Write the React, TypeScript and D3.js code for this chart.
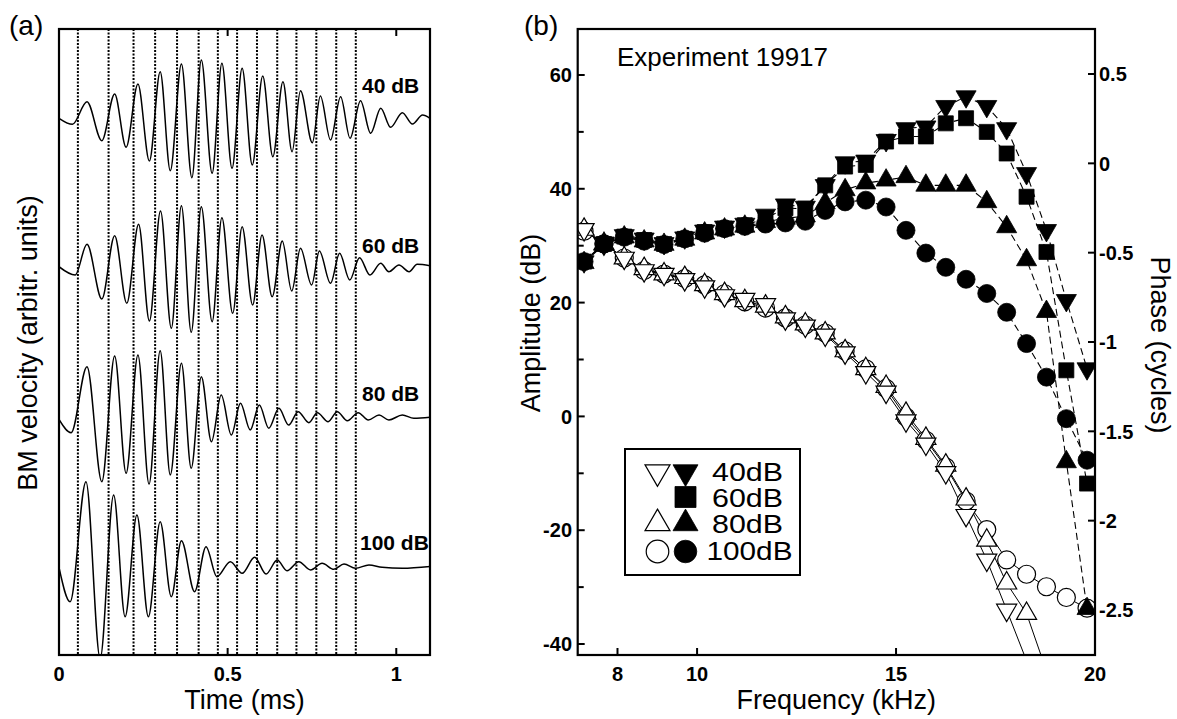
import React, { useEffect, useRef } from "react";
import * as d3 from "d3";

// ---------------- Panel (a): BM velocity waveforms ----------------
const timeTicks = [0, 0.5, 1];
const timeTickLabels = ["0", "0.5", "1"];
const dottedTimes = [0.056, 0.147, 0.221, 0.285, 0.35, 0.414, 0.471, 0.528, 0.587, 0.647, 0.704, 0.763, 0.822, 0.88];

const traceLabels = ["40 dB", "60 dB", "80 dB", "100 dB"];
const traceOffsets = [536.7, 388.3, 237.7, 88.5];

const trace40T = [0, 0.04, 0.083, 0.127, 0.165, 0.199, 0.234, 0.268, 0.3, 0.33, 0.363, 0.394, 0.422, 0.454, 0.483, 0.513, 0.543, 0.573, 0.604, 0.634, 0.664, 0.691, 0.716, 0.751, 0.775, 0.805, 0.835, 0.863, 0.894, 0.924, 0.954, 0.983, 1.018, 1.048, 1.078, 1.1];
const trace40V = [0, -6, 16.6, -22.4, 24.3, -29, 34.3, -42.7, 46.6, -52.4, 54.3, -59.4, 58.3, -55, 55, -50, 50, -46.7, 42.3, -38.4, 36.6, -33.4, 27.6, -24.4, 22.3, -21.7, 21.6, -20, 17.6, -15, 10, -9, 5.6, -5.7, 3.3, 0];

const trace60T = [0, 0.048, 0.083, 0.127, 0.165, 0.201, 0.236, 0.268, 0.301, 0.333, 0.363, 0.392, 0.422, 0.454, 0.483, 0.515, 0.543, 0.574, 0.602, 0.632, 0.662, 0.69, 0.716, 0.749, 0.772, 0.805, 0.832, 0.862, 0.891, 0.922, 0.954, 0.978, 1.008, 1.038, 1.062, 1.1];
const trace60V = [0, -8.3, 22.4, -32.3, 31, -36.6, 42.4, -54.3, 55.7, -61.6, 61, -65.6, 60, -55, 49, -46.6, 40, -38.3, 31.7, -30, 25.7, -24.3, 18.4, -18.3, 15.7, -16.6, 13.4, -13.3, 9, -8.3, 3.4, -5, 1.7, -5, 2.4, 1];

const trace80T = [0, 0.036, 0.083, 0.127, 0.165, 0.199, 0.234, 0.267, 0.3, 0.33, 0.363, 0.392, 0.422, 0.452, 0.481, 0.511, 0.538, 0.567, 0.594, 0.622, 0.652, 0.681, 0.709, 0.741, 0.766, 0.798, 0.825, 0.855, 0.887, 0.917, 0.949, 0.978, 1.018, 1.052, 1.1];
const trace80V = [-2, -15.4, 50.6, -64.4, 61.3, -56, 62.3, -66.7, 66.6, -57.7, 54, -51, 40.6, -24.4, 22.3, -17.7, 14, -12.7, 12.3, -11, 9, -7.7, 5.6, -5.4, 4.6, -4.4, 5.6, -3.4, 4.6, -2.7, 2.3, -2.7, 2.3, -1, 0];

const trace100T = [0, 0.033, 0.08, 0.122, 0.162, 0.196, 0.231, 0.265, 0.3, 0.333, 0.363, 0.402, 0.436, 0.468, 0.508, 0.543, 0.58, 0.614, 0.647, 0.676, 0.711, 0.746, 0.78, 0.815, 0.845, 0.879, 0.919, 0.958, 1.018, 1.1];
const trace100V = [-0.8, -35.2, 84.8, -92, 71.5, -50.2, 51.5, -50.2, 44.8, -30.2, 25.8, -25.2, 19.8, -10.2, 4.8, -6.8, 9.2, -7.5, 6.5, -4.2, 4.8, -3.5, 3.2, -2.8, 2.5, -1.8, 1.5, -0.8, -1.8, 0];

// ---------------- Panel (b): amplitude & phase ----------------
const freqTicks = [8, 10, 15, 20];
const ampTicks = [60, 40, 20, 0, -20, -40];
const ampMinorTicks = [50, 30, 10, -10, -30];
const phaseTicks = [0.5, 0, -0.5, -1, -1.5, -2, -2.5];
const phaseTickLabels = ["0.5", "0", "-0.5", "-1", "-1.5", "-2", "-2.5"];

const freqs = [7.16, 7.66, 8.17, 8.67, 9.17, 9.69, 10.19, 10.69, 11.2, 11.72, 12.22, 12.72, 13.22, 13.72, 14.24, 14.75, 15.25, 15.75, 16.25, 16.76, 17.28, 17.78, 18.28, 18.78, 19.28, 19.8];

const amp40 = [27.2, 30.5, 31.8, 31.2, 30.4, 31.4, 32.6, 33.3, 33.8, 35.4, 37.2, 36.8, 40.6, 44.6, 44.9, 48.5, 50.6, 50.9, 54.5, 56.2, 54.5, 50.6, 42.7, 32.7, 20.4, 8.4];
const amp60 = [27.2, 30.3, 31.6, 31.0, 30.3, 31.2, 32.4, 33.0, 33.6, 34.8, 36.6, 36.5, 40.6, 43.9, 44.2, 48.3, 49.2, 49.2, 51.5, 52.4, 50.0, 46.2, 38.6, 28.9, 8.1, -11.8];
const amp80 = [27.0, 30.2, 31.5, 30.8, 30.2, 31.1, 32.2, 32.9, 33.4, 34.2, 34.8, 35.2, 37.5, 39.8, 41.0, 41.5, 42.1, 40.6, 40.6, 40.6, 37.7, 33.3, 27.5, 18.4, -8.0, -33.8];
const amp100 = [27.2, 30.3, 31.5, 30.8, 30.2, 31.2, 32.2, 33.0, 33.4, 33.8, 34.0, 34.3, 36.2, 37.7, 38.0, 36.8, 32.7, 28.7, 26.2, 24.1, 21.6, 18.3, 12.8, 6.9, -0.4, -7.7];

const phase40 = [-0.37, -0.45, -0.53, -0.6, -0.62, -0.65, -0.69, -0.74, -0.76, -0.79, -0.87, -0.91, -0.96, -1.06, -1.17, -1.28, -1.44, -1.57, -1.73, -1.97, -2.22, -2.5, null, null, null, null];
const phase80 = [-0.37, -0.45, -0.53, -0.59, -0.62, -0.64, -0.68, -0.73, -0.77, -0.8, -0.86, -0.9, -0.95, -1.05, -1.15, -1.25, -1.4, -1.54, -1.69, -1.88, -2.11, -2.35, -2.52, null, null, null];
const phase100 = [-0.38, -0.45, -0.53, -0.6, -0.62, -0.645, -0.68, -0.73, -0.775, -0.81, -0.865, -0.905, -0.95, -1.05, -1.15, -1.26, -1.42, -1.55, -1.7, -1.89, -2.05, -2.22, -2.3, -2.37, -2.43, -2.49];
// fitted-line continuation below the last measured phase point
const phase40TailF = [18.66];
const phase40TailV = [-3.0];
const phase80TailF = [18.95];
const phase80TailV = [-2.95];

const legendLabels = ["40dB", "60dB", "80dB", "100dB"];

const FONT = "'Liberation Sans', Arial, Helvetica, sans-serif";

export default function App() {
  const ref = useRef<SVGSVGElement | null>(null);

  useEffect(() => {
    const svg = d3.select(ref.current);
    svg.selectAll("*").remove();
    svg.append("rect").attr("width", 1177).attr("height", 719).attr("fill", "#fff");

    // ======== Panel (a) ========
    const aL = 59, aR = 430, aT = 29, aB = 655;
    const xA = d3.scaleLinear().domain([0, 1.1]).range([aL, aR]);
    const yA = d3.scaleLinear().domain([0, aB - aT]).range([aB, aT]);

    const defs = svg.append("defs");
    defs.append("clipPath").attr("id", "clipA").append("rect")
      .attr("x", aL).attr("y", aT).attr("width", aR - aL).attr("height", aB - aT);

    const ga = svg.append("g");
    ga.selectAll("line.dot").data(dottedTimes).enter().append("line")
      .attr("x1", d => xA(d)).attr("x2", d => xA(d))
      .attr("y1", aT).attr("y2", aB)
      .attr("stroke", "#000").attr("stroke-width", 2)
      .attr("stroke-dasharray", "2,1.5");

    const traces = [
      { t: trace40T, v: trace40V },
      { t: trace60T, v: trace60V },
      { t: trace80T, v: trace80V },
      { t: trace100T, v: trace100V },
    ];
    const gTr = ga.append("g").attr("clip-path", "url(#clipA)");
    traces.forEach((tr, i) => {
      const pts = tr.t.map((t, j) => [t, tr.v[j] + traceOffsets[i]] as [number, number]);
      const line = d3.line<[number, number]>()
        .x(d => xA(d[0])).y(d => yA(d[1]))
        .curve(d3.curveMonotoneX);
      gTr.append("path").attr("d", line(pts) as string)
        .attr("fill", "none").attr("stroke", "#000").attr("stroke-width", 1.5);
    });

    ga.append("rect").attr("x", aL).attr("y", aT).attr("width", aR - aL).attr("height", aB - aT)
      .attr("fill", "none").attr("stroke", "#000").attr("stroke-width", 2.2);

    timeTicks.forEach((t, i) => {
      if (t > 0) {
        ga.append("line").attr("x1", xA(t)).attr("x2", xA(t)).attr("y1", aB).attr("y2", aB - 7)
          .attr("stroke", "#000").attr("stroke-width", 2);
        ga.append("line").attr("x1", xA(t)).attr("x2", xA(t)).attr("y1", aT).attr("y2", aT + 7)
          .attr("stroke", "#000").attr("stroke-width", 2);
      }
      ga.append("text").attr("x", xA(t)).attr("y", 681).attr("text-anchor", "middle")
        .attr("font-family", FONT).attr("font-weight", "bold").attr("font-size", 20)
        .text(timeTickLabels[i]);
    });

    const labelBase = [93, 253, 401, 550];
    traceLabels.forEach((l, i) => {
      ga.append("text").attr("x", i === 3 ? 360 : 362).attr("y", labelBase[i])
        .attr("font-family", FONT).attr("font-weight", "bold").attr("font-size", 21).text(l);
    });

    ga.append("text").attr("x", (aL + aR) / 2).attr("y", 709).attr("text-anchor", "middle")
      .attr("font-family", FONT).attr("font-size", 27).text("Time (ms)");
    ga.append("text").attr("transform", "translate(37,343) rotate(-90)").attr("text-anchor", "middle")
      .attr("font-family", FONT).attr("font-size", 27).text("BM velocity (arbitr. units)");
    ga.append("text").attr("x", 9).attr("y", 35).attr("font-family", FONT).attr("font-size", 28).text("(a)");

    // ======== Panel (b) ========
    const bL = 577.7, bR = 1095, bT = 29, bB = 655;
    const xB = d3.scaleLinear().domain([7, 20]).range([bL, bR]);
    const yAmp = d3.scaleLinear().domain([-41.93, 68.08]).range([bB, bT]);
    const yPh = d3.scaleLinear().domain([-2.752, 0.752]).range([bB, bT]);

    defs.append("clipPath").attr("id", "clipB").append("rect")
      .attr("x", bL).attr("y", bT).attr("width", bR - bL).attr("height", bB - bT);

    const gb = svg.append("g");
    const gData = gb.append("g").attr("clip-path", "url(#clipB)");

    type P = { f: number; v: number | null };
    const lineOpen = d3.line<P>().defined(d => d.v !== null)
      .x(d => xB(d.f)).y(d => yPh(d.v as number));
    const lineFilled = d3.line<P>().defined(d => d.v !== null)
      .x(d => xB(d.f)).y(d => yAmp(d.v as number));

    const mk = (vals: (number | null)[]): P[] => freqs.map((f, i) => ({ f, v: vals[i] }));

    const open40 = mk(phase40);
    const open80 = mk(phase80);
    const open100 = mk(phase100);

    const tail = (pts: P[], tf: number[], tv: number[]) =>
      pts.filter(p => p.v !== null).concat(tf.map((f, i) => ({ f, v: tv[i] })));

    [tail(open40, phase40TailF, phase40TailV), tail(open80, phase80TailF, phase80TailV), open100.filter(p => p.v !== null)]
      .forEach(pts => {
        gData.append("path").attr("d", lineOpen(pts) as string)
          .attr("fill", "none").attr("stroke", "#000").attr("stroke-width", 1);
      });

    const triDown = d3.symbol().type(d3.symbolTriangle).size(175)();
    const triUp = triDown;
    const circ = d3.symbol().type(d3.symbolCircle).size(255)();
    const sq = d3.symbol().type(d3.symbolSquare).size(225)();

    const drawMarkers = (pts: P[], path: string, rot: number, filled: boolean, yScale: (v: number) => number) => {
      gData.selectAll(null).data(pts.filter(p => p.v !== null)).enter().append("path")
        .attr("d", path)
        .attr("transform", d => `translate(${xB(d.f)},${yScale(d.v as number)}) rotate(${rot})`)
        .attr("fill", filled ? "#000" : "#fff")
        .attr("stroke", "#000").attr("stroke-width", filled ? 0.8 : 1.2);
    };

    drawMarkers(open100, circ, 0, false, yPh);
    drawMarkers(open80, triUp, 0, false, yPh);
    drawMarkers(open40, triDown, 180, false, yPh);

    const filledSeries = [amp100, amp80, amp60, amp40].map(mk);
    filledSeries.forEach(pts => {
      gData.append("path").attr("d", lineFilled(pts) as string)
        .attr("fill", "none").attr("stroke", "#000").attr("stroke-width", 1.1)
        .attr("stroke-dasharray", "7,4");
    });
    drawMarkers(filledSeries[0], circ, 0, true, yAmp);
    drawMarkers(filledSeries[1], triUp, 0, true, yAmp);
    drawMarkers(filledSeries[2], sq, 0, true, yAmp);
    drawMarkers(filledSeries[3], triDown, 180, true, yAmp);

    gb.append("rect").attr("x", bL).attr("y", bT).attr("width", bR - bL).attr("height", bB - bT)
      .attr("fill", "none").attr("stroke", "#000").attr("stroke-width", 2.2);

    const tick = (x1: number, y1: number, x2: number, y2: number) =>
      gb.append("line").attr("x1", x1).attr("y1", y1).attr("x2", x2).attr("y2", y2)
        .attr("stroke", "#000").attr("stroke-width", 2);

    ampTicks.forEach(v => {
      tick(bL, yAmp(v), bL + 7, yAmp(v));
      gb.append("text").attr("x", 572).attr("y", yAmp(v)).attr("dy", "0.36em")
        .attr("text-anchor", "end").attr("font-family", FONT).attr("font-weight", "bold")
        .attr("font-size", 20).text(String(v));
    });
    ampMinorTicks.forEach(v => tick(bL, yAmp(v), bL + 6, yAmp(v)));

    phaseTicks.forEach((v, i) => {
      tick(bR, yPh(v), bR - 7, yPh(v));
      gb.append("text").attr("x", 1099).attr("y", yPh(v)).attr("dy", "0.36em")
        .attr("text-anchor", "start").attr("font-family", FONT).attr("font-weight", "bold")
        .attr("font-size", 20).text(phaseTickLabels[i]);
    });

    freqTicks.forEach(f => {
      if (f < 20) tick(xB(f), bB, xB(f), bB - 7);
      gb.append("text").attr("x", xB(f)).attr("y", 681).attr("text-anchor", "middle")
        .attr("font-family", FONT).attr("font-weight", "bold").attr("font-size", 20).text(String(f));
    });

    gb.append("text").attr("x", (bL + bR) / 2).attr("y", 709).attr("text-anchor", "middle")
      .attr("font-family", FONT).attr("font-size", 27).text("Frequency (kHz)");
    gb.append("text").attr("transform", "translate(540,323) rotate(-90)").attr("text-anchor", "middle")
      .attr("font-family", FONT).attr("font-size", 27).text("Amplitude (dB)");
    gb.append("text").attr("transform", "translate(1151,345) rotate(90)").attr("text-anchor", "middle")
      .attr("font-family", FONT).attr("font-size", 27).text("Phase (cycles)");
    gb.append("text").attr("x", 524).attr("y", 35).attr("font-family", FONT).attr("font-size", 28).text("(b)");
    gb.append("text").attr("x", 617).attr("y", 66).attr("font-family", FONT).attr("font-size", 26).text("Experiment 19917");

    // legend
    const lg = gb.append("g");
    lg.append("rect").attr("x", 625).attr("y", 449).attr("width", 175).attr("height", 126)
      .attr("fill", "#fff").attr("stroke", "#000").attr("stroke-width", 2);
    const rowY = [472, 497, 523.5, 551.5];
    const textY = [480.5, 506.5, 532.5, 560];
    const lTri = d3.symbol().type(d3.symbolTriangle).size(270)();
    const lCirc = d3.symbol().type(d3.symbolCircle).size(400)();
    const lSq = d3.symbol().type(d3.symbolSquare).size(441)();
    const legendSyms: { open: string | null; filled: string; rot: number }[] = [
      { open: lTri, filled: lTri, rot: 180 },
      { open: null, filled: lSq, rot: 0 },
      { open: lTri, filled: lTri, rot: 0 },
      { open: lCirc, filled: lCirc, rot: 0 },
    ];
    legendSyms.forEach((s, i) => {
      if (s.open) {
        lg.append("path").attr("d", s.open)
          .attr("transform", `translate(657.5,${rowY[i]}) rotate(${s.rot})`)
          .attr("fill", "#fff").attr("stroke", "#000").attr("stroke-width", 1.2);
      }
      lg.append("path").attr("d", s.filled)
        .attr("transform", `translate(685.5,${rowY[i]}) rotate(${s.rot})`)
        .attr("fill", "#000").attr("stroke", "#000").attr("stroke-width", 0.8);
      lg.append("text").attr("x", i === 3 ? 706.5 : 712).attr("y", textY[i])
        .attr("font-family", FONT).attr("font-size", 25)
        .attr("textLength", i === 3 ? 86 : 71).attr("lengthAdjust", "spacingAndGlyphs")
        .text(legendLabels[i]);
    });
  }, []);

  return (
    <svg
      ref={ref}
      width={1177}
      height={719}
      style={{ position: "absolute", left: 0, top: 0, display: "block" }}
    />
  );
}
